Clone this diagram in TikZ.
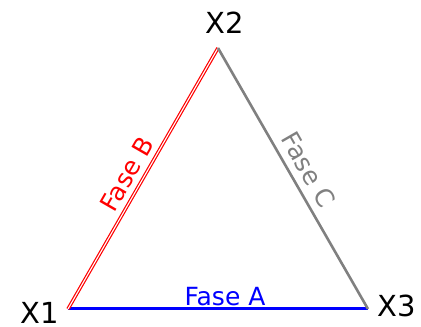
\documentclass[tikz,border=0pt]{standalone}
\usepackage{fontspec}
\setmainfont{DejaVu Sans}
\usepackage{tikz}
\usetikzlibrary{positioning}

\begin{document}
\begin{tikzpicture}[x=1pt, y=1pt,
  vlabel/.style={font=\fontsize{29}{29}\selectfont, inner sep=0pt},
  phase/.style={midway, sloped, above, font=\fontsize{25}{25}\selectfont, inner sep=2pt},
  faseA/.style={blue, line width=3pt},
  faseB/.style={red, line width=1.2pt, double=white, double distance=1.1pt},
  faseC/.style={gray, line width=2.6pt}
]
  \useasboundingbox (0,0) rectangle (421,327);

  \coordinate (p1) at (68,18);
  \coordinate (p2) at (218,279);
  \coordinate (p3) at (368,18);

  \node[vlabel] (x1) at (40,14) {X1};
  \node[vlabel] (x2) at (225,304) {X2};
  \node[vlabel] (x3) at (397,21) {X3};

  \draw[faseA] (p1) -- node[phase, blue, xshift=7pt] (fa) {Fase A} (p3);
  \draw[faseB] (p1) -- node[phase, red, yshift=4pt, xshift=-4pt] (fb) {Fase B} (p2);
  \draw[faseC] (p2) -- node[phase, gray, yshift=5pt] (fc) {Fase C} (p3);
\end{tikzpicture}
\end{document}
